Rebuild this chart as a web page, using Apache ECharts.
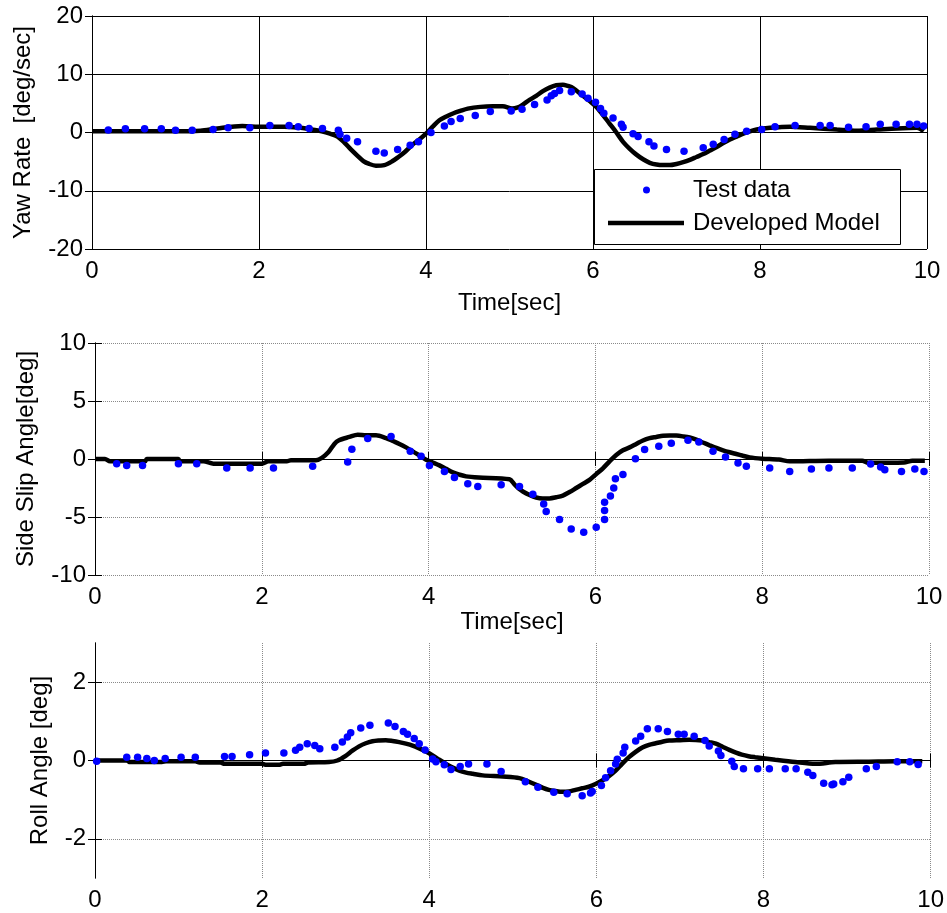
<!DOCTYPE html>
<html>
<head>
<meta charset="utf-8">
<script src="https://cdn.jsdelivr.net/npm/echarts@6/dist/echarts.min.js"></script>
<style>html,body{margin:0;padding:0;background:#fff;}#c{width:947px;height:913px;}</style>
</head>
<body>
<div id="c"></div>
<script>
// ---------- DATA ----------
var xTicks = [0, 2, 4, 6, 8, 10];
var yawTicks = [-20, -10, 0, 10, 20];
var slipTicks = [-10, -5, 0, 5, 10];
var rollTicks = [-2, 0, 2];

var yawTest = [[0.195,0.43],[0.40,0.65],[0.63,0.65],[0.83,0.65],[1.0,0.4],[1.2,0.4],[1.45,0.5],[1.63,0.8],[1.89,0.8],[2.13,1.2],[2.36,1.2],[2.47,1.0],[2.6,0.7],[2.76,0.7],[2.95,0.4],[2.97,-0.3],[3.05,-1.0],[3.18,-1.6],[3.40,-3.2],[3.50,-3.5],[3.66,-2.9],[3.81,-2.2],[3.91,-1.6],[4.06,0],[4.22,1.1],[4.30,1.9],[4.41,2.4],[4.59,2.9],[4.77,3.6],[5.02,3.7],[5.15,4.0],[5.30,4.8],[5.45,5.6],[5.50,6.3],[5.54,6.7],[5.60,7.2],[5.74,7.0],[5.87,6.6],[5.94,5.9],[6.03,5.2],[6.09,4.1],[6.13,3.3],[6.24,2.5],[6.34,1.4],[6.36,0.9],[6.48,-0.2],[6.54,-0.7],[6.67,-1.6],[6.73,-2.3],[6.88,-2.9],[7.09,-3.2],[7.32,-2.6],[7.44,-2.0],[7.57,-1.2],[7.70,-0.3],[7.84,0.2],[8.02,0.5],[8.18,1.0],[8.42,1.2],[8.72,1.2],[8.84,1.2],[9.06,0.9],[9.27,1.0],[9.44,1.4],[9.63,1.4],[9.79,1.4],[9.88,1.4],[9.96,1.1]];
var yawModel = [[0,0.2],[0.5,0.2],[1.0,0.2],[1.3,0.3],[1.5,0.7],[1.8,1.1],[2.0,1.0],[2.3,1.0],[2.5,0.8],[2.6,0.6],[2.75,0.2],[2.85,-0.2],[2.94,-0.7],[3.02,-1.7],[3.1,-2.9],[3.18,-4.0],[3.25,-4.9],[3.32,-5.4],[3.4,-5.7],[3.5,-5.6],[3.6,-4.9],[3.67,-4.2],[3.75,-3.3],[3.83,-2.2],[3.92,-1.2],[4.0,-0.2],[4.08,1.0],[4.16,2.1],[4.25,2.8],[4.33,3.3],[4.41,3.7],[4.5,4.1],[4.65,4.4],[4.8,4.5],[4.92,4.5],[5.03,4.1],[5.1,4.3],[5.16,4.8],[5.24,5.6],[5.32,6.3],[5.4,7.1],[5.48,7.7],[5.56,8.1],[5.64,8.2],[5.7,8.0],[5.74,7.8],[5.8,7.2],[5.88,6.3],[5.96,5.4],[6.04,4.4],[6.12,3.0],[6.2,1.5],[6.28,0.0],[6.36,-1.6],[6.44,-2.8],[6.52,-3.8],[6.6,-4.6],[6.68,-5.2],[6.76,-5.5],[6.84,-5.6],[6.92,-5.6],[7.0,-5.4],[7.08,-5.1],[7.16,-4.7],[7.24,-4.2],[7.32,-3.7],[7.4,-3.1],[7.48,-2.5],[7.56,-1.8],[7.64,-1.2],[7.72,-0.7],[7.8,-0.2],[7.88,0.2],[7.96,0.5],[8.12,0.8],[8.36,1.0],[8.6,0.8],[8.92,0.5],[9.16,0.3],[9.4,0.5],[9.64,0.7],[9.88,0.8],[9.96,0.2]];

var slipTest = [[0.26,-0.40],[0.38,-0.55],[0.57,-0.55],[1.0,-0.40],[1.22,-0.40],[1.58,-0.78],[1.86,-0.78],[2.14,-0.78],[2.61,-0.63],[3.03,-0.26],[3.08,0.84],[3.27,1.76],[3.55,1.93],[3.78,0.66],[3.91,0.23],[4.01,-0.55],[4.19,-1.07],[4.31,-1.59],[4.47,-2.14],[4.59,-2.37],[4.87,-2.22],[5.09,-2.37],[5.25,-3.03],[5.38,-3.87],[5.41,-4.53],[5.57,-5.22],[5.71,-6.03],[5.86,-6.32],[6.01,-5.89],[6.11,-5.22],[6.11,-4.44],[6.11,-3.72],[6.18,-3.20],[6.22,-2.51],[6.24,-1.70],[6.33,-1.33],[6.48,0.03],[6.59,0.81],[6.76,1.10],[6.91,1.36],[7.11,1.62],[7.24,1.47],[7.41,0.66],[7.56,0.17],[7.71,-0.35],[7.81,-0.63],[8.09,-0.78],[8.33,-1.07],[8.59,-0.87],[8.80,-0.78],[9.08,-0.78],[9.30,-0.43],[9.42,-0.69],[9.47,-0.92],[9.67,-1.07],[9.83,-0.87],[9.94,-1.07]];
var slipModel = [[0,0],[0.12,0],[0.18,-0.2],[0.6,-0.2],[0.62,0],[1.0,0],[1.02,-0.2],[1.3,-0.2],[1.42,-0.4],[2.0,-0.4],[2.08,-0.2],[2.3,-0.2],[2.35,-0.1],[2.65,-0.1],[2.72,0.1],[2.8,0.6],[2.87,1.3],[2.92,1.6],[3.05,1.9],[3.15,2.1],[3.25,2.05],[3.37,2.05],[3.49,1.8],[3.57,1.55],[3.65,1.3],[3.73,1.0],[3.81,0.66],[3.89,0.3],[3.97,-0.06],[4.05,-0.3],[4.13,-0.55],[4.21,-0.85],[4.29,-1.15],[4.37,-1.35],[4.45,-1.5],[4.6,-1.6],[4.97,-1.75],[5.03,-2.2],[5.08,-2.55],[5.13,-2.8],[5.21,-3.1],[5.29,-3.32],[5.37,-3.4],[5.45,-3.4],[5.53,-3.3],[5.61,-3.15],[5.69,-2.85],[5.77,-2.5],[5.85,-2.15],[5.93,-1.8],[6.01,-1.3],[6.09,-0.8],[6.17,-0.2],[6.25,0.35],[6.33,0.75],[6.41,1.0],[6.49,1.3],[6.57,1.6],[6.65,1.8],[6.73,1.9],[6.81,2.0],[6.89,2.03],[6.97,2.02],[7.05,1.95],[7.13,1.85],[7.21,1.67],[7.29,1.42],[7.37,1.18],[7.45,0.95],[7.53,0.75],[7.61,0.58],[7.69,0.43],[7.77,0.28],[7.85,0.14],[8.0,0.03],[8.2,-0.05],[8.33,-0.2],[8.8,-0.15],[9.2,-0.15],[9.27,-0.33],[9.7,-0.3],[9.8,-0.15],[9.95,-0.15]];

var rollTest = [[0.02,-0.02],[0.38,0.085],[0.51,0.085],[0.62,0.05],[0.71,0],[0.84,0.05],[1.03,0.085],[1.20,0.085],[1.55,0.10],[1.64,0.10],[1.85,0.15],[2.04,0.19],[2.26,0.19],[2.40,0.26],[2.45,0.34],[2.54,0.43],[2.63,0.38],[2.69,0.30],[2.87,0.34],[2.96,0.47],[3.02,0.60],[3.06,0.71],[3.18,0.83],[3.29,0.90],[3.51,0.96],[3.59,0.87],[3.69,0.74],[3.74,0.67],[3.82,0.56],[3.88,0.43],[3.95,0.27],[4.04,0.04],[4.08,-0.03],[4.18,-0.11],[4.26,-0.23],[4.37,-0.15],[4.47,-0.09],[4.69,-0.09],[4.86,-0.28],[5.15,-0.54],[5.30,-0.68],[5.49,-0.81],[5.65,-0.85],[5.83,-0.90],[5.93,-0.83],[5.95,-0.79],[6.06,-0.64],[6.11,-0.44],[6.17,-0.26],[6.23,-0.09],[6.25,0.03],[6.32,0.19],[6.34,0.34],[6.47,0.50],[6.53,0.62],[6.61,0.81],[6.74,0.81],[6.85,0.74],[6.98,0.67],[7.05,0.67],[7.17,0.62],[7.30,0.51],[7.35,0.37],[7.46,0.24],[7.49,0.13],[7.62,-0.02],[7.65,-0.15],[7.76,-0.21],[7.93,-0.21],[8.07,-0.21],[8.26,-0.21],[8.39,-0.21],[8.53,-0.30],[8.59,-0.38],[8.72,-0.58],[8.82,-0.62],[8.84,-0.60],[8.95,-0.54],[9.02,-0.43],[9.23,-0.21],[9.35,-0.15],[9.60,-0.03],[9.75,-0.03],[9.85,-0.10]];
var rollModel = [[0,0],[0.38,0],[0.42,-0.04],[0.8,-0.04],[0.85,-0.02],[1.2,-0.02],[1.25,-0.05],[1.5,-0.05],[1.55,-0.085],[2.0,-0.085],[2.05,-0.11],[2.2,-0.11],[2.25,-0.085],[2.5,-0.085],[2.55,-0.05],[2.8,-0.04],[2.9,0.0],[3.0,0.12],[3.08,0.25],[3.16,0.36],[3.24,0.44],[3.32,0.49],[3.4,0.51],[3.48,0.52],[3.56,0.5],[3.64,0.47],[3.72,0.43],[3.8,0.38],[3.88,0.31],[3.96,0.23],[4.04,0.13],[4.12,0.02],[4.2,-0.085],[4.28,-0.18],[4.36,-0.26],[4.44,-0.31],[4.52,-0.34],[4.64,-0.38],[4.88,-0.41],[5.08,-0.45],[5.18,-0.53],[5.28,-0.62],[5.36,-0.7],[5.43,-0.75],[5.51,-0.78],[5.59,-0.8],[5.67,-0.79],[5.75,-0.75],[5.83,-0.71],[5.91,-0.67],[5.99,-0.6],[6.07,-0.51],[6.15,-0.4],[6.23,-0.26],[6.31,-0.08],[6.39,0.085],[6.47,0.22],[6.55,0.33],[6.63,0.4],[6.71,0.44],[6.79,0.48],[6.87,0.51],[7.0,0.52],[7.11,0.53],[7.27,0.51],[7.35,0.47],[7.43,0.43],[7.51,0.35],[7.59,0.27],[7.67,0.2],[7.74,0.15],[7.82,0.11],[7.9,0.085],[8.14,0.02],[8.38,-0.04],[8.62,-0.085],[8.86,-0.04],[9.26,-0.03],[9.58,-0.02],[9.9,-0.02]];

// ---------- CHART ----------
var FONT = '"Liberation Sans", Arial, Helvetica, sans-serif';
var FS = 24;
var solidGrid = {show: true, lineStyle: {color: '#000', width: 1, type: 'solid'}};
var dotGrid = {show: true, lineStyle: {color: '#8a8a8a', width: 1, type: [1, 1]}};

function xAxes(g, name, nameGap, split) {
  var main = {
    type: 'value', gridIndex: g, position: 'bottom', min: 0, max: 10,
    axisLabel: {customValues: xTicks, fontSize: FS, color: '#000', fontFamily: FONT, margin: 10},
    axisTick: {customValues: xTicks, inside: true, length: 7, lineStyle: {color: '#000'}},
    axisLine: {show: true, lineStyle: {color: '#000', width: 1}},
    splitLine: split,
    name: name, nameLocation: 'middle', nameGap: nameGap,
    nameTextStyle: {fontSize: FS, color: '#000', fontFamily: FONT}
  };
  var opp = {
    type: 'value', gridIndex: g, position: 'top', min: 0, max: 10,
    axisLabel: {show: false},
    axisTick: {customValues: xTicks, inside: true, length: 7, lineStyle: {color: '#000'}},
    axisLine: {show: true, lineStyle: {color: '#000', width: 1}},
    splitLine: {show: false}
  };
  return [main, opp];
}
function yAxes(g, min, max, ticks, name, nameGap, split) {
  var main = {
    type: 'value', gridIndex: g, position: 'left', min: min, max: max,
    axisLabel: {customValues: ticks, fontSize: FS, color: '#000', fontFamily: FONT, margin: 9},
    axisTick: {customValues: ticks, inside: true, length: 7, lineStyle: {color: '#000'}},
    axisLine: {show: true, lineStyle: {color: '#000', width: 1}},
    splitLine: split,
    name: name, nameLocation: 'middle', nameGap: nameGap,
    nameTextStyle: {fontSize: FS, color: '#000', fontFamily: FONT}
  };
  var opp = {
    type: 'value', gridIndex: g, position: 'right', min: min, max: max,
    axisLabel: {show: false},
    axisTick: {customValues: ticks, inside: true, length: 7, lineStyle: {color: '#000'}},
    axisLine: {show: true, lineStyle: {color: '#000', width: 1}},
    splitLine: {show: false}
  };
  return [main, opp];
}

var xs = [].concat(xAxes(0, 'Time[sec]', 42, solidGrid), xAxes(1, 'Time[sec]', 32, dotGrid), xAxes(2, '', 30, dotGrid));
var ys = [].concat(yAxes(0, -20, 20, yawTicks, 'Yaw Rate  [deg/sec]', 57, solidGrid),
                   yAxes(1, -10, 10, slipTicks, 'Side Slip Angle[deg]', 57, dotGrid),
                   yAxes(2, -3, 3, rollTicks, 'Roll Angle [deg]', 43, dotGrid));

function lineS(i, data) {
  return {name: 'Developed Model', type: 'line', xAxisIndex: 2 * i, yAxisIndex: 2 * i, data: data,
    showSymbol: false, symbol: 'none', smooth: 0.3, lineStyle: {color: '#000', width: 4.5}, itemStyle: {color: '#000'}, z: 2, silent: true};
}
function scatS(i, data) {
  return {name: 'Test data', type: 'scatter', xAxisIndex: 2 * i, yAxisIndex: 2 * i, data: data,
    symbol: 'circle', symbolSize: 7.5, itemStyle: {color: '#0000ff', opacity: 1}, z: 3, silent: true};
}

var option = {
  animation: false,
  backgroundColor: '#fff',
  textStyle: {fontFamily: FONT},
  grid: [
    {left: 92, right: 20, top: 16, height: 233, show: false},
    {left: 95, right: 18, top: 343, height: 232, show: false},
    {left: 95, right: 15, top: 643, height: 235, show: false}
  ],
  xAxis: xs,
  yAxis: ys,
  legend: [
    {data: [{name: 'Test data', icon: 'circle'}], left: 643, top: 178, itemWidth: 7, itemHeight: 7,
     textStyle: {fontSize: FS, color: '#000', fontFamily: FONT, padding: [0, 0, 0, 38]}, selectedMode: false, z: 20, padding: 0},
    {data: [{name: 'Developed Model', icon: 'rect'}], left: 608, top: 211, itemWidth: 76, itemHeight: 4.5,
     textStyle: {fontSize: FS, color: '#000', fontFamily: FONT, padding: [0, 0, 0, 4]}, selectedMode: false, z: 20, padding: 0}
  ],
  graphic: [
    {type: 'rect', z: 15, shape: {x: 594.5, y: 169.5, width: 306, height: 75},
     style: {fill: '#fff', stroke: '#000', lineWidth: 1}}
  ],
  series: [scatS(0, yawTest), lineS(0, yawModel), scatS(1, slipTest), lineS(1, slipModel), scatS(2, rollTest), lineS(2, rollModel)]
};
var chart = echarts.init(document.getElementById('c'), null, {renderer: 'canvas'});
chart.setOption(option);
</script>
</body>
</html>
